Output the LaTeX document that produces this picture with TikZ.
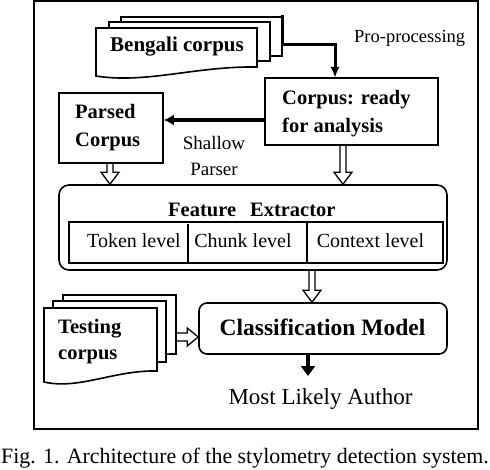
\documentclass[tikz,border=0pt]{standalone}
\usepackage{fontspec}
\setmainfont{Liberation Serif}
\usetikzlibrary{calc,arrows.meta}
\newcommand\docsh[5]{%
 \begin{scope}[shift={(#1,#2)}]
 \filldraw[boxline,fill=white] (0,0) -- ({#3},0) -- ({#3},{#4}) .. controls ({0.62*#3},{#4-1}) and ({0.31*#3},{#5+8}) .. (0,{#5}) -- cycle;
 \end{scope}}
\newcommand\hollowdn[2]{%
 \draw[hollow] ($(#1)+(-3,0)$) -- ($(#2)+(-3,-12)$) -- ($(#2)+(-9,-12)$) -- (#2) -- ($(#2)+(9,-12)$) -- ($(#2)+(3,-12)$) -- ($(#1)+(3,0)$);}
\newcommand\hollowrt[2]{%
 \draw[hollow] ($(#1)+(0,-4)$) -- ($(#2)+(-11,-4)$) -- ($(#2)+(-11,-9)$) -- (#2) -- ($(#2)+(-11,9)$) -- ($(#2)+(-11,4)$) -- ($(#1)+(0,4)$);}
\begin{document}
\begin{tikzpicture}[x=1pt,y=-1pt,
  boxline/.style={line width=1.6pt},
  hollow/.style={line width=1.3pt, line join=miter},
  thickarr/.style={line width=3pt},
  bx/.style={draw, boxline, inner sep=0, minimum width=#1},
  tb/.style={inner sep=0, font=\fontsize{20.5}{28}\selectfont\bfseries, align=left},
  tr/.style={inner sep=0, font=\fontsize{20}{26}\selectfont},
  ]
\useasboundingbox (0,0) rectangle (490,470);
% outer frame
\node[draw, line width=2pt, minimum width=444, minimum height=428, inner sep=0] (frame) at (256,215) {};
% Bengali corpus documents
\docsh{121}{17}{161}{39}{48}
\docsh{109}{22}{161}{39}{48}
\docsh{96}{28}{161}{39}{48}
\node[tb, font=\fontsize{21}{28}\selectfont\bfseries, anchor=base west] (beng) at (110,51.7) {Bengali corpus};
\coordinate (bstart) at (282,15);
\node[tr, font=\fontsize{18.5}{22}\selectfont, anchor=base west] (prop) at (354,43) {Pro-processing};
% corpus ready
\node[bx=173, minimum height=67] (corpus) at (351.5,111.5) {};
\node[tb, anchor=west] (corpustxt) at (282,114) {Corpus: ready\\for analysis};
% parsed corpus
\node[bx=104, minimum height=70] (parsed) at (111,128) {};
\node[tb, anchor=west] (parsedtxt) at (75,128) {Parsed\\Corpus};
\node[tr, font=\fontsize{19}{26}\selectfont, align=center] (shallow) at (214,156.5) {Shallow\\Parser};
% arrows top
\coordinate (cin) at (335,78);
\draw[thickarr, -{Latex[length=11pt,width=9pt]}] (bstart) |- ($(cin)+(0,-33)$) -- (cin);
\coordinate (h1) at (0,120);
\draw[line width=3.5pt, -{Latex[length=10pt,width=11pt]}] (corpus.west |- h1) -- (parsed.east |- h1);
% feature extractor
\node[draw, boxline, rounded corners=10pt, minimum width=388, minimum height=85, inner sep=0] (fe) at (253,227.5) {};
\node[tb, anchor=base west] (fetitle) at (168,216.7) {Feature\hspace{14pt}Extractor};
\node[draw, boxline, minimum width=374, minimum height=41, inner sep=0] (table) at (256,242.5) {};
\draw[boxline] (188,224) -- (188,263);
\draw[boxline] (307,222) -- (307,263);
\node[tr, anchor=base] (tok) at (134,247.3) {Token level};
\node[tr, anchor=base] (chk) at (243,247.3) {Chunk level};
\node[tr, anchor=base] (ctx) at (370.5,247.3) {Context level};
% hollow arrows into FE
\coordinate (a1) at (110,0);
\coordinate (a1s) at (parsed.south -| a1);
\coordinate (a1e) at (fe.north -| a1);
\hollowdn{a1s}{a1e}
\coordinate (a2) at (343,0);
\coordinate (a2s) at (corpus.south -| a2);
\coordinate (a2e) at (fe.north -| a2);
\hollowdn{a2s}{a2e}
% classification
\node[draw, boxline, rounded corners=8pt, minimum width=248, minimum height=51, inner sep=0] (class) at (323,328.5) {};
\node[inner sep=0, font=\fontsize{23.5}{28}\selectfont\bfseries, anchor=base] (classtxt) at (322.5,335) {Classification Model};
\coordinate (a3) at (312,0);
\coordinate (a3s) at (fe.south -| a3);
\coordinate (a3e) at (class.north -| a3);
\hollowdn{a3s}{a3e}
% testing corpus documents
\docsh{63}{295}{113}{59}{74}
\docsh{53}{301}{113}{61}{74}
\docsh{44}{308}{113}{63}{74}
\node[tb, font=\fontsize{20.5}{26}\selectfont\bfseries, anchor=west] (testing) at (58,341.5) {Testing\\corpus};
\coordinate (tstart) at (176,337);
\coordinate (tend) at (class.west |- tstart);
\hollowrt{tstart}{tend}
% output
\node[inner sep=0, font=\fontsize{23}{28}\selectfont, anchor=base] (most) at (320.5,404) {Most Likely Author};
\coordinate (a4) at (308,0);
\coordinate (mtip) at (308,376);
\draw[line width=4pt, -{Triangle[length=10pt,width=14pt]}] (class.south -| a4) -- (mtip);
% caption
\node[inner sep=0, font=\fontsize{21.9}{26}\selectfont, anchor=base] (cap) at (245,463) {Fig. 1. Architecture of the stylometry detection system.};
\end{tikzpicture}
\end{document}
